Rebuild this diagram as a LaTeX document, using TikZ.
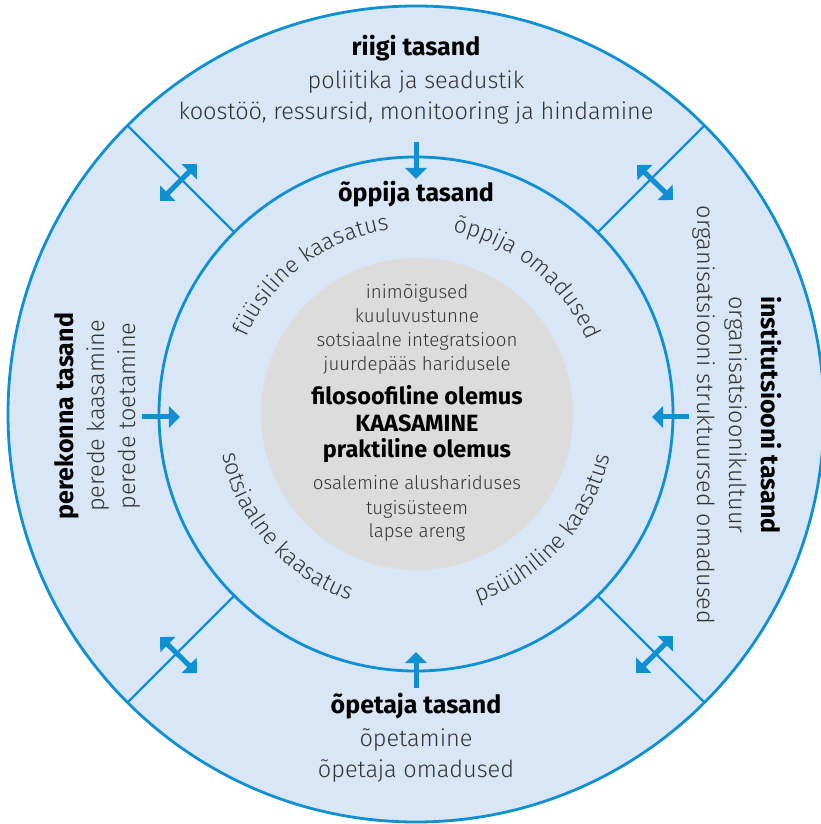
\documentclass[tikz,border=0pt]{standalone}
\usepackage{fontspec}
\IfFontExistsTF{Fira Sans Light}
  {\setmainfont{Fira Sans Light}[BoldFont={Fira Sans Bold}]}
  {\setmainfont{PT Sans}}
\usepackage{tikz}
\usetikzlibrary{arrows.meta, decorations.text}
\definecolor{ringblue}{HTML}{0E90D2}
\definecolor{ringfill}{HTML}{D9E6F5}
\definecolor{coregray}{HTML}{DCDCDD}
\definecolor{txtgray}{HTML}{333333}
\newcommand{\arcfont}{\fontsize{23}{27}\selectfont}

\begin{document}
\begin{tikzpicture}[x=1pt, y=1pt,
    ring/.style={circle, draw=ringblue, line width=2.8pt, inner sep=0pt, outer sep=0pt},
    divider/.style={draw=ringblue, line width=2.4pt},
    arr/.style={draw=ringblue, line width=5pt, -{Triangle[width=21pt,length=11pt]}},
    dblarr/.style={draw=ringblue, line width=5pt, {Triangle[width=21pt,length=11pt]}-{Triangle[width=21pt,length=11pt]}},
    lvl/.style={anchor=base, text=black, font=\bfseries\fontsize{25}{29}\selectfont},
    lvltxt/.style={anchor=base, text=txtgray, font=\fontsize{23.5}{27}\selectfont},
    coretxt/.style={anchor=base, text=txtgray, font=\fontsize{18.7}{22}\selectfont},
    corebold/.style={anchor=base, text=black, font=\bfseries\fontsize{23.5}{27}\selectfont},
    arctxt/.style={decorate, decoration={text along path, text align=center,
        text color=txtgray, text={|\arcfont|#1}}}]
    \useasboundingbox (-416,-410) rectangle (404,414);
    % rings
    \node[ring, fill=ringfill, minimum size=816pt] (outer) at (0,0) {};
    \node[ring, fill=ringfill, minimum size=514pt] (inner) at (0,0) {};
    \node[circle, fill=coregray, inner sep=0pt, minimum size=312pt] (core) at (1,0) {};
    \draw[divider] (inner.45)--(outer.45);
    \draw[divider] (inner.135)--(outer.135);
    \draw[divider] (inner.225)--(outer.225);
    \draw[divider] (inner.315)--(outer.315);
    % arrows into the inner ring
    \coordinate (n1) at (0,272); \coordinate (n2) at (0,235);
    \coordinate (w1) at (-274,-3); \coordinate (w2) at (-236,-3);
    \coordinate (e1) at (273,-3); \coordinate (e2) at (236,-3);
    \coordinate (s1) at (0,-274); \coordinate (s2) at (0,-238);
    \draw[arr] (n1)--(n2);
    \draw[arr] (w1)--(w2);
    \draw[arr] (e1)--(e2);
    \draw[arr] (s1)--(s2);
    % arrows across the dividers
    \coordinate (nw1) at (-256,213); \coordinate (nw2) at (-219,250);
    \coordinate (ne1) at (221,249); \coordinate (ne2) at (257,214);
    \coordinate (sw1) at (-256,-223); \coordinate (sw2) at (-219,-259);
    \coordinate (se1) at (220,-259); \coordinate (se2) at (257,-222);
    \draw[dblarr] (nw1)--(nw2);
    \draw[dblarr] (ne1)--(ne2);
    \draw[dblarr] (sw1)--(sw2);
    \draw[dblarr] (se1)--(se2);
    % outer ring texts
    \node[lvl] (riik) at (0,358) {riigi tasand};
    \node[lvltxt] (riik1) at (0,325) {poliitika ja seadustik};
    \node[lvltxt] (riik2) at (0,294) {koostöö, ressursid, monitooring ja hindamine};
    \node[lvl] (opetaja) at (0,-299) {õpetaja tasand};
    \node[lvltxt] (opetaja1) at (0,-332) {õpetamine};
    \node[lvltxt] (opetaja2) at (0,-363) {õpetaja omadused};
    \node[lvl, rotate=90] (pere) at (-342,-2) {perekonna tasand};
    \node[lvltxt, rotate=90] (pere1) at (-311,-2) {perede kaasamine};
    \node[lvltxt, rotate=90] (pere2) at (-280,-2) {perede toetamine};
    \node[lvl, rotate=-90] (inst) at (345,-1) {institutsiooni tasand};
    \node[lvltxt, rotate=-90] (inst1) at (313,-1) {organisatsioonikultuur};
    \node[lvltxt, rotate=-90] (inst2) at (281,-1) {organisatsiooni struktuursed omadused};
    % inner ring texts
    \node[lvl] (oppija) at (0,212) {õppija tasand};
    \path[arctxt={füüsiline kaasatus}] (167:186) arc[start angle=167, end angle=87, radius=186];
    \path[arctxt={õppija omadused}] (91:186) arc[start angle=91, end angle=11, radius=186];
    \path[arctxt={sotsiaalne kaasatus}] (181:198) arc[start angle=181, end angle=261, radius=198];
    \path[arctxt={psüühiline kaasatus}] (278:198) arc[start angle=278, end angle=358, radius=198];
    % core texts
    \node[coretxt] (c1) at (1,115) {inimõigused};
    \node[coretxt] (c2) at (1,91) {kuuluvustunne};
    \node[coretxt] (c3) at (1,67) {sotsiaalne integratsioon};
    \node[coretxt] (c4) at (1,43) {juurdepääs haridusele};
    \node[corebold] (b1) at (1,9) {filosoofiline olemus};
    \node[corebold] (b2) at (1,-18) {KAASAMINE};
    \node[corebold] (b3) at (1,-44) {praktiline olemus};
    \node[coretxt] (c5) at (1,-76) {osalemine alushariduses};
    \node[coretxt] (c6) at (1,-100) {tugisüsteem};
    \node[coretxt] (c7) at (1,-123) {lapse areng};
\end{tikzpicture}
\end{document}
